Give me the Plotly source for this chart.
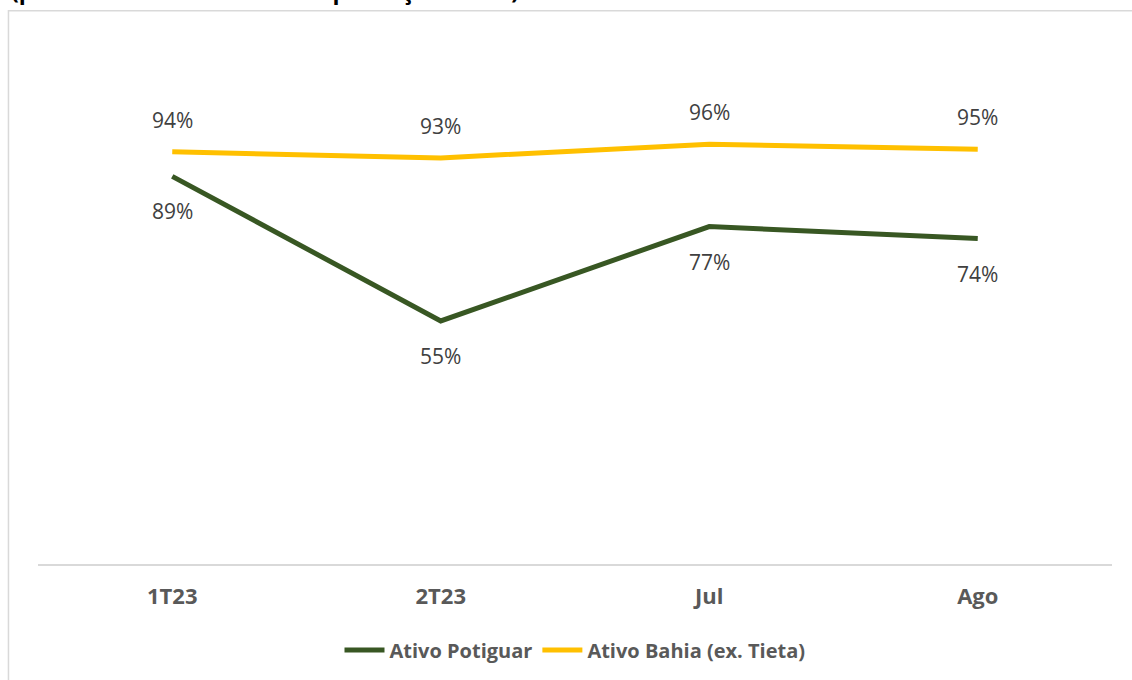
import plotly.graph_objects as go

categories = ["1T23", "2T23", "Jul", "Ago"]
potiguar = [0.887, 0.550, 0.770, 0.742]
bahia = [0.944, 0.930, 0.962, 0.950]
potiguar_labels = ["89%", "55%", "77%", "74%"]
bahia_labels = ["94%", "93%", "96%", "95%"]
series_names = ["Ativo Potiguar", "Ativo Bahia (ex. Tieta)"]
title_text = "(processamento em UPGN / produção bruta)"

GREEN = "#385723"
YELLOW = "#FFC000"
FONT = "Open Sans"

fig = go.Figure()
fig.add_trace(go.Scatter(x=categories, y=potiguar, mode="lines", name=series_names[0],
                         line=dict(color=GREEN, width=5), hoverinfo="skip"))
fig.add_trace(go.Scatter(x=categories, y=bahia, mode="lines", name=series_names[1],
                         line=dict(color=YELLOW, width=5), hoverinfo="skip"))

annotations = []
for c, v, t in zip(categories, bahia, bahia_labels):
    annotations.append(dict(x=c, y=v, text=t, showarrow=False, yshift=32,
                            font=dict(family=FONT, size=21, color="#404040")))
for c, v, t in zip(categories, potiguar, potiguar_labels):
    annotations.append(dict(x=c, y=v, text=t, showarrow=False, yshift=-35,
                            font=dict(family=FONT, size=21, color="#404040")))
annotations.append(dict(xref="paper", yref="paper", x=-0.027, y=1.066, xanchor="left",
                        yanchor="bottom", text="<b>" + title_text + "</b>", showarrow=False,
                        font=dict(family=FONT, size=23, color="#000000")))

fig.update_layout(
    width=1132, height=680,
    margin=dict(l=38, r=20, t=42, b=115),
    paper_bgcolor="white", plot_bgcolor="white",
    showlegend=True,
    legend=dict(orientation="h", x=0.5, xanchor="center", y=-0.1627, yanchor="middle",
                font=dict(family=FONT, size=20, color="#595959", weight="bold"),
                itemwidth=40, traceorder="normal"),
    xaxis=dict(showgrid=False, zeroline=False, showline=True, linecolor="#D9D9D9", linewidth=1.5,
               range=[-0.5, 3.5],
               ticks="", tickfont=dict(family=FONT, size=22, color="#595959", weight="bold"),
               ticklabelstandoff=12, fixedrange=True),
    yaxis=dict(range=[-0.0163, 1.2], visible=False, fixedrange=True),
    annotations=annotations,
    shapes=[dict(type="rect", xref="paper", yref="paper", x0=-0.0275, x1=1.2, y0=-0.4, y1=1.0597,
                 line=dict(color="#D9D9D9", width=1.5), fillcolor="rgba(0,0,0,0)", layer="below")],
)

fig.write_html("out.html", config={"displayModeBar": False},
               post_script="document.body.style.margin='0px';")
